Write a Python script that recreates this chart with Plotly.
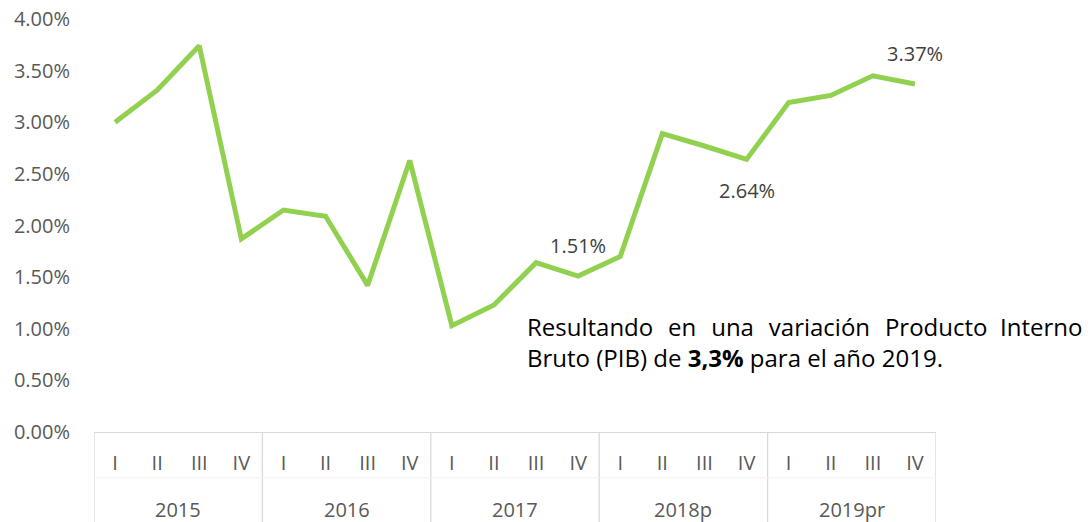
import plotly.graph_objects as go

year_names = ["2015", "2016", "2017", "2018p", "2019pr"]
quarter_names = ["I", "II", "III", "IV"]
years = [y for y in year_names for _ in quarter_names]
quarters = quarter_names * len(year_names)
pib = [3.00, 3.31, 3.74, 1.87,
       2.15, 2.09, 1.42, 2.63,
       1.03, 1.23, 1.64, 1.51,
       1.70, 2.89, 2.77, 2.64,
       3.19, 3.26, 3.45, 3.37]
labels = {11: "1.51%", 15: "2.64%", 19: "3.37%"}
label_pos = {11: "top", 15: "bottom", 19: "top"}
y_ticks = [0, 0.5, 1, 1.5, 2, 2.5, 3, 3.5, 4]
y_ticktext = [f"{v:.2f}%" for v in y_ticks]
note_words = ["Resultando", "en", "una", "variación", "Producto", "Interno"]

FONT = "Open Sans"
GREY = "#595959"
AXIS = "#d9d9d9"

idx = list(range(len(pib)))
nq = len(quarter_names)

W, H = 1090, 522
L, T, PW, PH = 94, 19, 842, 413

fig = go.Figure()
fig.add_trace(go.Scatter(
    x=idx, y=pib, mode="lines",
    line=dict(color="#92D050", width=5), showlegend=False, cliponaxis=False,
))
for i, t in labels.items():
    fig.add_annotation(
        x=i, y=pib[i], text=t, showarrow=False,
        yshift=31 if label_pos[i] == "top" else -31,
        font=dict(family=FONT, size=20, color="#404040"),
    )

# year group labels and dividers
for g, yname in enumerate(year_names):
    center = g * nq + (nq - 1) / 2
    fig.add_annotation(
        x=center, xref="x", y=0, yref="paper", yshift=-77, text=yname,
        showarrow=False, yanchor="middle",
        font=dict(family=FONT, size=20, color=GREY),
    )
for g in range(len(year_names) + 1):
    b = g * nq - 0.5
    fig.add_shape(type="line", xref="x", yref="paper", x0=b, x1=b,
                  y0=0, y1=-0.25, line=dict(color=AXIS, width=1.3), layer="below")
fig.add_shape(type="line", xref="x", yref="paper", x0=-0.5, x1=len(pib) - 0.5,
              y0=-0.111, y1=-0.111, line=dict(color="#f2f2f2", width=1), layer="below")

# justified-looking first line
line1 = note_words[0]
for k, w in enumerate(note_words[1:]):
    line1 += "&nbsp;&nbsp;" + ("&#8202;" if k < 4 else "") + w
fig.add_annotation(
    xref="paper", yref="y", x=(525 - L) / PW, y=0.87, xanchor="left", yanchor="middle",
    text=line1 + "<br>Bruto (PIB) de <b>3,3%</b> para el año 2019.",
    align="left", showarrow=False,
    font=dict(family=FONT, size=24, color="#000000"),
)

fig.update_layout(
    width=W, height=H,
    margin=dict(l=L, r=W - L - PW, t=T, b=H - T - PH, autoexpand=False),
    paper_bgcolor="white", plot_bgcolor="white",
    font=dict(family=FONT, size=20, color=GREY),
)
fig.update_xaxes(
    range=[-0.5, len(pib) - 0.5], tickvals=idx, ticktext=quarters,
    showgrid=False, zeroline=False, showline=True, linecolor=AXIS, linewidth=1.3,
    ticks="", ticklabelstandoff=13, automargin=False,
    tickfont=dict(family=FONT, size=20, color=GREY),
)
fig.update_yaxes(
    range=[0, 4], tickvals=y_ticks, ticktext=y_ticktext,
    showgrid=False, zeroline=False, showline=False, automargin=False,
    ticklabeloverflow="allow",
    ticklabelstandoff=23, tickfont=dict(family=FONT, size=20, color=GREY),
)
fig.write_html("out.html", config={"displayModeBar": False},
               post_script="document.body.style.margin='0';")
